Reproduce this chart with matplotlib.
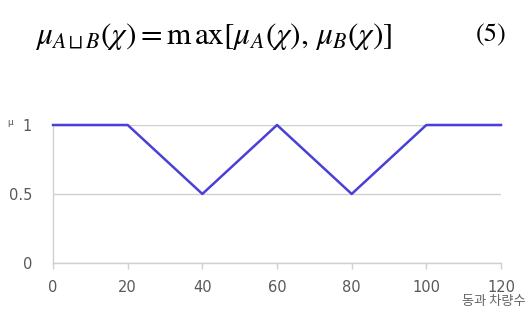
import matplotlib
matplotlib.use("Agg")
import matplotlib.pyplot as plt

plt.rcParams['font.family'] = ['Noto Sans CJK KR', 'DejaVu Sans']
plt.rcParams['mathtext.fontset'] = 'stix'

# data
x_vals = [0, 20, 40, 60, 80, 100, 120]
mu_vals = [1, 1, 0.5, 1, 0.5, 1, 1]
x_ticks = [0, 20, 40, 60, 80, 100, 120]
y_ticks = [0, 0.5, 1]
y_labels = ['0', '0.5', '1']

fig = plt.figure(figsize=(5.26, 3.23), dpi=100)
ax = fig.add_axes([0.1008, 0.186, 0.8517, 0.427])

grey = '#d0d0d0'
ax.plot(x_vals, mu_vals, color='#4a3fd6', lw=1.8, clip_on=False, zorder=3)
ax.set_xlim(0, 120)
ax.set_ylim(0, 1)
ax.set_xticks(x_ticks)
ax.set_yticks(y_ticks)
ax.set_yticklabels(y_labels)
ax.grid(axis='y', color=grey, lw=1)
for s in ['top', 'right']:
    ax.spines[s].set_visible(False)
for s in ['left', 'bottom']:
    ax.spines[s].set_color(grey)
    ax.spines[s].set_linewidth(1)
for lab in ax.get_xticklabels() + ax.get_yticklabels():
    lab.set_family('DejaVu Sans')
ax.tick_params(axis='x', colors=grey, length=4, width=1, labelcolor='#595959',
               labelsize=10.5, pad=8)
ax.tick_params(axis='y', length=0, labelcolor='#595959', labelsize=10.5, pad=15)

fig.text(0.014, 0.622, 'μ', fontsize=6.5, color='#555555', ha='left', va='center',
         family='DejaVu Sans')
fig.text(0.999, 0.068, '동과 차량수', fontsize=9.5, color='#666666', ha='right',
         va='center')

fig.text(0.066, 0.89,
         r'$\mu_{A\sqcup B}(\chi) = \mathrm{m}\,\mathrm{ax}[\mu_A(\chi),\,\mu_B(\chi)]$',
         fontsize=22.5, ha='left', va='center')
fig.text(0.962, 0.89, '(5)', fontsize=19, ha='right', va='center',
         family='STIXGeneral')

fig.savefig('out.png', dpi=100)
